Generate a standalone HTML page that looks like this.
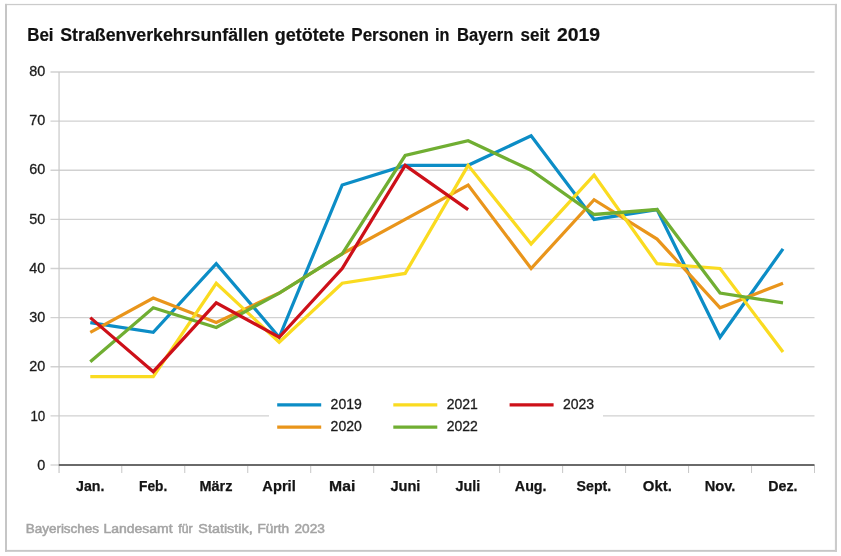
<!DOCTYPE html>
<html lang="de"><head><meta charset="utf-8"><title>Bei Straßenverkehrsunfällen getötete Personen in Bayern seit 2019</title>
<style>
html,body{margin:0;padding:0;background:#fff;}
body{width:841px;height:556px;overflow:hidden;}
svg{display:block;filter:blur(0.3px);}
text{font-family:"Liberation Sans",Arial,Helvetica,sans-serif;}
.t{font-weight:bold;font-size:18px;fill:#111;stroke:#111;stroke-width:0.2px;}
.yl{font-size:14.4px;fill:#1c1c1c;stroke:#1c1c1c;stroke-width:0.3px;text-anchor:end;}
.xl{font-size:14.6px;font-weight:bold;fill:#151515;stroke:#151515;stroke-width:0.25px;}
.lg{font-size:14px;fill:#1c1c1c;stroke:#1c1c1c;stroke-width:0.3px;}
.ft{font-size:12.3px;fill:#a4a4a4;stroke:#a4a4a4;stroke-width:0.5px;}
</style></head><body>
<svg width="841" height="556" viewBox="0 0 841 556">
<rect x="0" y="0" width="841" height="556" fill="#fff"/>
<rect x="5" y="3.9" width="832" height="1.25" fill="#cbcbcb"/>
<rect x="5" y="549.9" width="832" height="1.9" fill="#c6c6c6"/>
<rect x="5" y="3.9" width="2" height="547.9" fill="#c6c6c6"/>
<rect x="834.9" y="3.9" width="2.1" height="547.9" fill="#cbcbcb"/>

<line x1="50.5" x2="814.5" y1="415.88" y2="415.88" stroke="#d1d1d1" stroke-width="1.3"/>
<line x1="50.5" x2="814.5" y1="366.75" y2="366.75" stroke="#d1d1d1" stroke-width="1.3"/>
<line x1="50.5" x2="814.5" y1="317.62" y2="317.62" stroke="#d1d1d1" stroke-width="1.3"/>
<line x1="50.5" x2="814.5" y1="268.50" y2="268.50" stroke="#d1d1d1" stroke-width="1.3"/>
<line x1="50.5" x2="814.5" y1="219.38" y2="219.38" stroke="#d1d1d1" stroke-width="1.3"/>
<line x1="50.5" x2="814.5" y1="170.25" y2="170.25" stroke="#d1d1d1" stroke-width="1.3"/>
<line x1="50.5" x2="814.5" y1="121.12" y2="121.12" stroke="#d1d1d1" stroke-width="1.3"/>
<line x1="50.5" x2="814.5" y1="72.00" y2="72.00" stroke="#d1d1d1" stroke-width="1.3"/>
<line x1="50.5" x2="58.8" y1="465.0" y2="465.0" stroke="#d1d1d1" stroke-width="1.3"/>
<line x1="59.05" x2="59.05" y1="72.0" y2="473.0" stroke="#c8c8c8" stroke-width="1.2"/>
<line x1="121.78" x2="121.78" y1="465.0" y2="473.0" stroke="#c9c9c9" stroke-width="1.05"/>
<line x1="184.75" x2="184.75" y1="465.0" y2="473.0" stroke="#c9c9c9" stroke-width="1.05"/>
<line x1="247.73" x2="247.73" y1="465.0" y2="473.0" stroke="#c9c9c9" stroke-width="1.05"/>
<line x1="310.70" x2="310.70" y1="465.0" y2="473.0" stroke="#c9c9c9" stroke-width="1.05"/>
<line x1="373.68" x2="373.68" y1="465.0" y2="473.0" stroke="#c9c9c9" stroke-width="1.05"/>
<line x1="436.65" x2="436.65" y1="465.0" y2="473.0" stroke="#c9c9c9" stroke-width="1.05"/>
<line x1="499.62" x2="499.62" y1="465.0" y2="473.0" stroke="#c9c9c9" stroke-width="1.05"/>
<line x1="562.60" x2="562.60" y1="465.0" y2="473.0" stroke="#c9c9c9" stroke-width="1.05"/>
<line x1="625.57" x2="625.57" y1="465.0" y2="473.0" stroke="#c9c9c9" stroke-width="1.05"/>
<line x1="688.55" x2="688.55" y1="465.0" y2="473.0" stroke="#c9c9c9" stroke-width="1.05"/>
<line x1="751.52" x2="751.52" y1="465.0" y2="473.0" stroke="#c9c9c9" stroke-width="1.05"/>
<line x1="814.50" x2="814.50" y1="465.0" y2="473.0" stroke="#c9c9c9" stroke-width="1.05"/>
<rect x="269" y="394" width="334" height="44" fill="#fff"/>
<line x1="58.8" x2="814.5" y1="465.0" y2="465.0" stroke="#6a6a6a" stroke-width="1.8"/>
<polyline points="90.29,322.54 153.26,332.36 216.24,263.59 279.21,337.27 342.19,184.99 405.16,165.34 468.14,165.34 531.11,135.86 594.09,219.38 657.06,209.55 720.04,337.27 783.01,248.85" fill="none" stroke="#0c8dc6" stroke-width="3.25" stroke-linejoin="miter" stroke-linecap="butt"/>
<polyline points="90.29,332.36 153.26,297.98 216.24,322.54 279.21,293.06 342.19,253.76 405.16,219.38 468.14,184.99 531.11,268.50 594.09,199.73 657.06,239.03 720.04,307.80 783.01,283.24" fill="none" stroke="#e9951b" stroke-width="3.25" stroke-linejoin="miter" stroke-linecap="butt"/>
<polyline points="90.29,376.57 153.26,376.57 216.24,283.24 279.21,342.19 342.19,283.24 405.16,273.41 468.14,165.34 531.11,243.94 594.09,175.16 657.06,263.59 720.04,268.50 783.01,352.01" fill="none" stroke="#fadb20" stroke-width="3.25" stroke-linejoin="miter" stroke-linecap="butt"/>
<polyline points="90.29,361.84 153.26,307.80 216.24,327.45 279.21,293.06 342.19,253.76 405.16,155.51 468.14,140.77 531.11,170.25 594.09,214.46 657.06,209.55 720.04,293.06 783.01,302.89" fill="none" stroke="#70ae32" stroke-width="3.25" stroke-linejoin="miter" stroke-linecap="butt"/>
<polyline points="90.29,317.62 153.26,371.66 216.24,302.89 279.21,337.27 342.19,268.50 405.16,165.34 468.14,209.55" fill="none" stroke="#cd1019" stroke-width="3.25" stroke-linejoin="miter" stroke-linecap="butt"/>
<text class="yl" x="45.3" y="469.80">0</text>
<text class="yl" x="45.3" y="420.56" textLength="14.9" lengthAdjust="spacingAndGlyphs">10</text>
<text class="yl" x="45.3" y="371.32">20</text>
<text class="yl" x="45.3" y="322.09">30</text>
<text class="yl" x="45.3" y="272.85">40</text>
<text class="yl" x="45.3" y="223.61">50</text>
<text class="yl" x="45.3" y="174.38">60</text>
<text class="yl" x="45.3" y="125.14">70</text>
<text class="yl" x="45.3" y="75.90">80</text>
<text class="xl" y="491.45"><tspan x="76.00" textLength="28.41" lengthAdjust="spacingAndGlyphs">Jan.</tspan> <tspan x="139.10" textLength="28.15" lengthAdjust="spacingAndGlyphs">Feb.</tspan> <tspan x="199.40" textLength="33.07" lengthAdjust="spacingAndGlyphs">März</tspan> <tspan x="262.30" textLength="33.49" lengthAdjust="spacingAndGlyphs">April</tspan> <tspan x="329.10" textLength="26.23" lengthAdjust="spacingAndGlyphs">Mai</tspan> <tspan x="390.40" textLength="30.01" lengthAdjust="spacingAndGlyphs">Juni</tspan> <tspan x="455.60" textLength="24.72" lengthAdjust="spacingAndGlyphs">Juli</tspan> <tspan x="514.80" textLength="31.81" lengthAdjust="spacingAndGlyphs">Aug.</tspan> <tspan x="576.60" textLength="34.65" lengthAdjust="spacingAndGlyphs">Sept.</tspan> <tspan x="642.80" textLength="29.03" lengthAdjust="spacingAndGlyphs">Okt.</tspan> <tspan x="704.80" textLength="30.55" lengthAdjust="spacingAndGlyphs">Nov.</tspan> <tspan x="768.30" textLength="29.19" lengthAdjust="spacingAndGlyphs">Dez.</tspan></text>
<line x1="277.2" x2="321.2" y1="404.9" y2="404.9" stroke="#0c8dc6" stroke-width="3.2"/>
<text class="lg" x="330.59999999999997" y="409.10">2019</text>
<line x1="277.2" x2="321.2" y1="427.15" y2="427.15" stroke="#e9951b" stroke-width="3.2"/>
<text class="lg" x="330.59999999999997" y="431.05">2020</text>
<line x1="393.3" x2="437.3" y1="404.9" y2="404.9" stroke="#fadb20" stroke-width="3.2"/>
<text class="lg" x="446.7" y="409.10">2021</text>
<line x1="393.3" x2="437.3" y1="427.15" y2="427.15" stroke="#70ae32" stroke-width="3.2"/>
<text class="lg" x="446.7" y="431.05">2022</text>
<line x1="509.6" x2="553.6" y1="404.9" y2="404.9" stroke="#cd1019" stroke-width="3.2"/>
<text class="lg" x="563.0" y="409.10">2023</text>
<text class="t" y="40.6"><tspan x="27.20" textLength="26.36" lengthAdjust="spacingAndGlyphs">Bei</tspan> <tspan x="60.20" textLength="208.47" lengthAdjust="spacingAndGlyphs">Straßenverkehrsunfällen</tspan> <tspan x="274.70" textLength="70.02" lengthAdjust="spacingAndGlyphs">getötete</tspan> <tspan x="351.30" textLength="77.58" lengthAdjust="spacingAndGlyphs">Personen</tspan> <tspan x="435.10" textLength="14.44" lengthAdjust="spacingAndGlyphs">in</tspan> <tspan x="457.10" textLength="56.15" lengthAdjust="spacingAndGlyphs">Bayern</tspan> <tspan x="520.60" textLength="29.17" lengthAdjust="spacingAndGlyphs">seit</tspan> <tspan x="556.90" textLength="43.13" lengthAdjust="spacingAndGlyphs">2019</tspan></text>
<text class="ft" y="532.8"><tspan x="25.70" textLength="73.39" lengthAdjust="spacingAndGlyphs">Bayerisches</tspan> <tspan x="103.50" textLength="69.04" lengthAdjust="spacingAndGlyphs">Landesamt</tspan> <tspan x="178.30" textLength="14.38" lengthAdjust="spacingAndGlyphs">für</tspan> <tspan x="198.30" textLength="54.36" lengthAdjust="spacingAndGlyphs">Statistik,</tspan> <tspan x="257.40" textLength="31.79" lengthAdjust="spacingAndGlyphs">Fürth</tspan> <tspan x="294.50" textLength="30.41" lengthAdjust="spacingAndGlyphs">2023</tspan></text>
</svg>
</body></html>
